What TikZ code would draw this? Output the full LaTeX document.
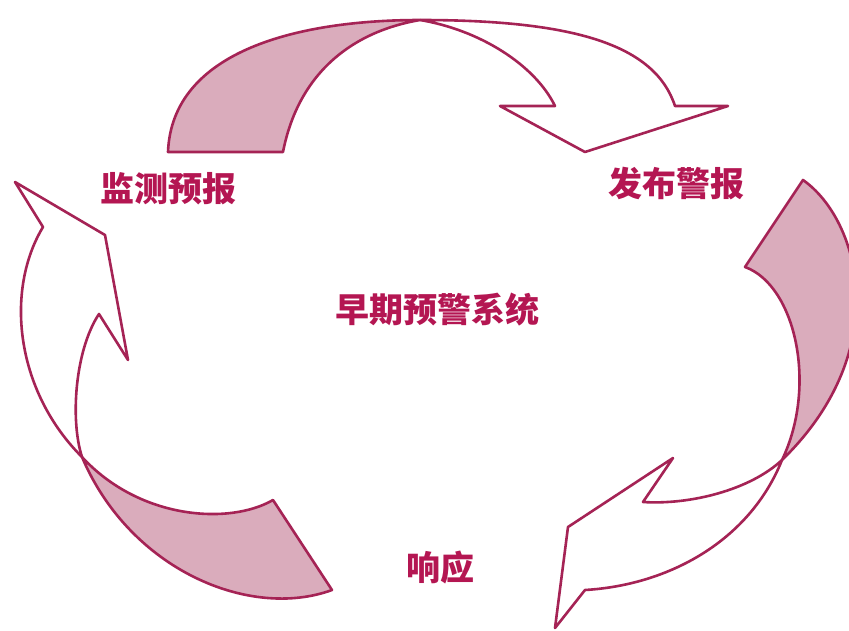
\documentclass[tikz,border=0pt]{standalone}
\usepackage{fontspec}
\newfontfamily\cjk{Noto Sans CJK SC}
\definecolor{lineC}{RGB}{165,35,85}
\definecolor{fillC}{RGB}{218,172,188}
\definecolor{textC}{RGB}{180,22,82}
\begin{document}
\begin{tikzpicture}[x=1pt,y=-1pt,
  outline/.style={draw=lineC,line width=2.6pt,line join=round},
  shade/.style={fill=fillC},
  lbl/.style={text=textC,font=\cjk\bfseries\fontsize{34}{40}\selectfont,inner sep=0pt}]
\clip (0,0) rectangle (849,630);
\fill[white] (0,0) rectangle (849,630);
% ---------- top arrow ----------
\coordinate (tA) at (168,152);
\coordinate (tB) at (283,152);
\coordinate (tX) at (420,20);
\coordinate (tC) at (675,106);
\coordinate (tD) at (728,106);
\coordinate (tT) at (585,152);
\coordinate (tE) at (500,106);
\coordinate (tF) at (555,106);
\path[shade] (tA) .. controls (172,50) and (300,20) .. (tX) .. controls (350,32) and (298,75) .. (tB) -- cycle;
\draw[outline] (tA) .. controls (172,50) and (300,20) .. (tX) .. controls (350,32) and (298,75) .. (tB) -- cycle;
\draw[outline] (tX) .. controls (575,20) and (655,45) .. (tC) -- (tD) -- (tT) -- (tE) -- (tF) .. controls (535,65) and (480,30) .. (tX);
% ---------- right shaded piece ----------
\coordinate (rA) at (803,180);
\coordinate (rB) at (745,267);
\coordinate (rX) at (782,460);
\path[shade] (rA) .. controls (860,220) and (895,350) .. (rX) .. controls (818,385) and (795,285) .. (rB) -- cycle;
\draw[outline] (rA) .. controls (860,220) and (895,350) .. (rX) .. controls (818,385) and (795,285) .. (rB) -- cycle;
% ---------- bottom-right arrow ----------
\coordinate (bA) at (643,502);
\coordinate (bB) at (673,458);
\coordinate (bC) at (568,527);
\coordinate (bT) at (555,628);
\coordinate (bD) at (585,590);
\draw[outline] (rX) .. controls (750,490) and (690,505) .. (bA) -- (bB) -- (bC) -- (bT) -- (bD) .. controls (670,585) and (750,540) .. (rX);
% ---------- bottom-left shaded piece ----------
\coordinate (lX) at (82,457);
\coordinate (sA) at (273,500);
\coordinate (sB) at (332,590);
\path[shade] (lX) .. controls (140,520) and (230,525) .. (sA) -- (sB) .. controls (250,620) and (130,570) .. (lX) -- cycle;
\draw[outline] (lX) .. controls (140,520) and (230,525) .. (sA) -- (sB) .. controls (250,620) and (130,570) .. (lX) -- cycle;
% ---------- left arrow ----------
\coordinate (lA) at (43,227);
\coordinate (lT) at (15,182);
\coordinate (lB) at (105,235);
\coordinate (lC) at (128,360);
\coordinate (lD) at (99,314);
\draw[outline] (lX) .. controls (15,390) and (5,290) .. (lA) -- (lT) -- (lB) -- (lC) -- (lD) .. controls (75,350) and (70,420) .. (lX);
% ---------- labels ----------
\node[lbl] (jc) at (168,189) {监测预报};
\node[lbl] (fb) at (676,184) {发布警报};
\node[lbl] (zq) at (437,310) {早期预警系统};
\node[lbl] (xy) at (440,568) {响应};
\end{tikzpicture}
\end{document}
